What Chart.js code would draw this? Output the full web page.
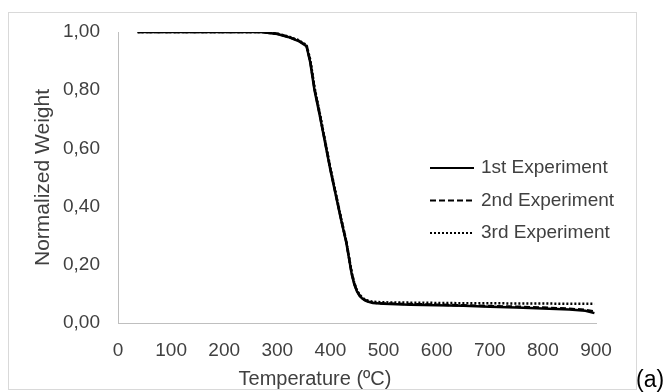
<!DOCTYPE html>
<html><head><meta charset="utf-8">
<script src="https://cdn.jsdelivr.net/npm/chart.js@4.4.0/dist/chart.umd.min.js"></script>
<style>
html,body{margin:0;padding:0;background:#fff;width:668px;height:392px;overflow:hidden;}
#box{position:absolute;left:8px;top:12px;width:627px;height:376px;border:1px solid #d9d9d9;}
#c{position:absolute;left:0;top:0;display:block}
#tag{position:absolute;left:636px;top:365px;font:23px "Liberation Sans",Arial,sans-serif;color:#000;line-height:28px;}
</style></head><body>
<div id="box"></div>
<canvas id="c" width="668" height="392"></canvas>
<div id="tag">(a)</div>
<script>
// Temperature (ºC) sample points
const temperatureC = [37, 100, 200, 270, 300, 320, 340, 355, 362, 370, 380, 400, 420, 430, 440, 445, 450, 455, 460, 465, 470, 480, 500, 550, 600, 650, 700, 750, 800, 850, 880, 897];
// Normalized weight for each experiment
const exp1 = [1.000,1.000,1.000,1.000,0.993,0.983,0.969,0.951,0.895,0.800,0.712,0.525,0.355,0.275,0.168,0.132,0.108,0.093,0.084,0.078,0.074,0.069,0.066,0.063,0.061,0.059,0.056,0.053,0.050,0.046,0.042,0.034];
const exp2 = [1.000,1.000,1.000,1.000,0.994,0.984,0.970,0.953,0.900,0.805,0.716,0.528,0.358,0.278,0.171,0.135,0.110,0.095,0.085,0.079,0.075,0.070,0.067,0.065,0.063,0.061,0.058,0.056,0.053,0.049,0.045,0.040];
const exp3 = [1.000,1.000,1.000,1.000,0.994,0.985,0.972,0.955,0.905,0.810,0.720,0.532,0.360,0.280,0.173,0.137,0.112,0.097,0.087,0.081,0.077,0.073,0.071,0.070,0.069,0.068,0.068,0.067,0.067,0.066,0.066,0.066];
const seriesLabels = ['1st Experiment', '2nd Experiment', '3rd Experiment'];
const xTickValues = [0, 100, 200, 300, 400, 500, 600, 700, 800, 900];
const yTickValues = [0, 0.2, 0.4, 0.6, 0.8, 1.0];
const xTitle = 'Temperature (ºC)';
const yTitle = 'Normalized Weight';

const FONT = '"Liberation Sans", Arial, sans-serif';
const TXT = '#404040';
Chart.defaults.font.family = FONT;

const toPts = ys => temperatureC.map((t, i) => ({x: t, y: ys[i]}));

const inlineLegend = {
  id: 'inlineLegend',
  afterDatasetsDraw(chart) {
    const ctx = chart.ctx;
    ctx.save();
    chart.data.datasets.forEach((ds, i) => {
      const y = 168 + i * 32.5;
      ctx.beginPath();
      ctx.setLineDash(ds.borderDash || []);
      ctx.lineWidth = 2;
      ctx.strokeStyle = ds.borderColor;
      ctx.moveTo(430, y);
      ctx.lineTo(474, y);
      ctx.stroke();
      ctx.setLineDash([]);
      ctx.fillStyle = TXT;
      ctx.font = '19px ' + FONT;
      ctx.textBaseline = 'middle';
      ctx.textAlign = 'left';
      ctx.fillText(ds.label, 481, y);
    });
    ctx.font = '20px ' + FONT;
    ctx.fillStyle = TXT;
    ctx.textAlign = 'center';
    ctx.textBaseline = 'middle';
    ctx.fillText(xTitle, 315, 379);
    ctx.restore();
  }
};

new Chart(document.getElementById('c'), {
  type: 'line',
  data: {
    datasets: [
      {label: seriesLabels[0], data: toPts(exp1), borderColor: '#000', borderWidth: 2.5, borderDash: []},
      {label: seriesLabels[1], data: toPts(exp2), borderColor: '#000', borderWidth: 2.5, borderDash: [6, 3]},
      {label: seriesLabels[2], data: toPts(exp3), borderColor: '#000', borderWidth: 2.5, borderDash: [2, 2]}
    ]
  },
  options: {
    responsive: false,
    animation: false,
    layout: {padding: {left: 0, right: 72, top: 32, bottom: 0}},
    elements: {point: {radius: 0}, line: {tension: 0}},
    plugins: {legend: {display: false}, tooltip: {enabled: false}},
    scales: {
      x: {
        type: 'linear', min: 0, max: 900,
        afterBuildTicks(s) { s.ticks = xTickValues.map(v => ({value: v})); },
        ticks: {color: TXT, font: {size: 19}, padding: 8, maxRotation: 0, autoSkip: false},
        grid: {display: false},
        border: {display: true, color: '#bfbfbf', width: 1},
        afterFit(s) { s.height = 69; }
      },
      y: {
        min: 0, max: 1,
        afterBuildTicks(s) { s.ticks = yTickValues.map(v => ({value: v})); },
        ticks: {color: TXT, font: {size: 19}, padding: 10, callback: v => v.toFixed(2).replace('.', ',')},
        grid: {display: false},
        border: {display: true, color: '#bfbfbf', width: 1},
        title: {display: true, text: yTitle, color: TXT, font: {size: 21}, padding: {top: 31, bottom: 0}},
        afterFit(s) { s.width = 118; }
      }
    }
  },
  plugins: [inlineLegend]
});
</script>
</body></html>
